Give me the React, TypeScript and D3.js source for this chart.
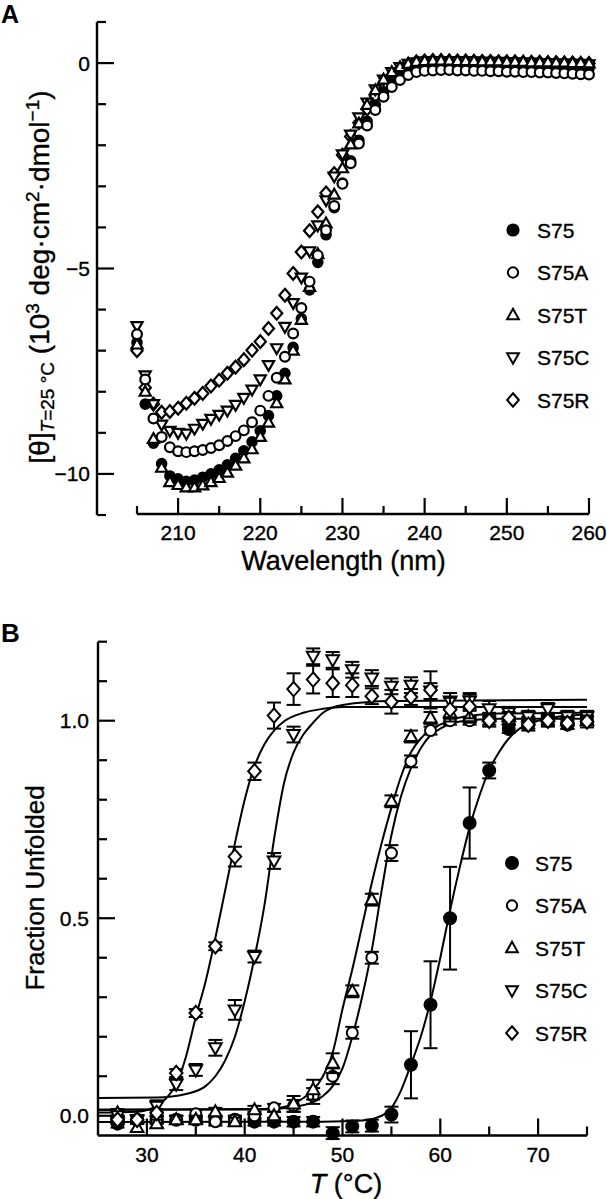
import React from 'react';
import * as d3 from 'd3';

// ---------------- Panel A data (CD spectra) ----------------
const WAVELENGTHS = [205,206,207,208,209,210,211,212,213,214,215,216,217,218,219,220,221,222,223,224,225,226,227,228,229,230,231,232,233,234,235,236,237,238,239,240,241,242,243,244,245,246,247,248,249,250,251,252,253,254,255,256,257,258,259,260];

const CD_S75 = [-6.8,-8.3,-9.25,-9.75,-10.05,-10.12,-10.18,-10.15,-10.08,-10.0,-9.9,-9.78,-9.62,-9.44,-9.22,-8.95,-8.58,-8.1,-7.55,-6.92,-6.22,-5.52,-4.85,-4.18,-3.52,-2.92,-2.38,-1.88,-1.42,-1.02,-0.7,-0.45,-0.28,-0.17,-0.1,-0.07,-0.06,-0.05,-0.05,-0.06,-0.06,-0.07,-0.07,-0.08,-0.08,-0.09,-0.09,-0.1,-0.1,-0.1,-0.11,-0.11,-0.12,-0.12,-0.12,-0.13];
const CD_S75A = [-6.6,-7.7,-8.65,-9.1,-9.35,-9.45,-9.47,-9.45,-9.42,-9.37,-9.3,-9.2,-9.08,-8.94,-8.74,-8.46,-8.1,-7.66,-7.15,-6.58,-5.96,-5.32,-4.68,-4.07,-3.48,-2.94,-2.44,-1.96,-1.52,-1.14,-0.82,-0.58,-0.41,-0.29,-0.22,-0.19,-0.18,-0.17,-0.17,-0.18,-0.18,-0.19,-0.19,-0.2,-0.2,-0.21,-0.21,-0.22,-0.22,-0.23,-0.23,-0.24,-0.25,-0.26,-0.27,-0.28];
const CD_S75T = [-6.85,-8.0,-9.15,-9.85,-10.2,-10.27,-10.33,-10.33,-10.28,-10.2,-10.1,-9.97,-9.8,-9.62,-9.4,-9.1,-8.75,-8.28,-7.7,-7.0,-6.25,-5.45,-4.65,-3.9,-3.2,-2.56,-1.98,-1.47,-1.02,-0.66,-0.4,-0.22,-0.1,-0.02,0.03,0.05,0.06,0.06,0.06,0.05,0.05,0.05,0.04,0.04,0.04,0.03,0.03,0.03,0.02,0.02,0.02,0.01,0.01,0.0,0.0,-0.01];
const CD_S75C = [-6.4,-7.6,-8.3,-8.8,-8.95,-9.0,-9.02,-8.9,-8.78,-8.66,-8.56,-8.46,-8.32,-8.15,-7.95,-7.7,-7.35,-6.94,-6.42,-5.84,-5.22,-4.58,-3.95,-3.34,-2.76,-2.22,-1.74,-1.32,-0.96,-0.64,-0.4,-0.22,-0.1,-0.02,0.02,0.04,0.05,0.05,0.05,0.04,0.04,0.04,0.03,0.03,0.03,0.02,0.02,0.01,0.01,0.0,0.0,-0.01,-0.01,-0.02,-0.02,-0.03];
const CD_S75R = [-7.0,-7.9,-8.3,-8.5,-8.48,-8.4,-8.28,-8.16,-8.04,-7.86,-7.72,-7.55,-7.4,-7.22,-6.99,-6.78,-6.46,-6.09,-5.65,-5.12,-4.6,-4.08,-3.62,-3.16,-2.69,-2.24,-1.79,-1.45,-1.12,-0.8,-0.54,-0.33,-0.15,-0.03,0.03,0.05,0.06,0.06,0.05,0.05,0.05,0.04,0.04,0.04,0.03,0.03,0.03,0.02,0.02,0.02,0.01,0.01,0.0,0.0,-0.01,-0.01];

const A_Y_TICKS = [1,0,-1,-2,-3,-4,-5,-6,-7,-8,-9,-10,-11];
const A_Y_LABELS = [0,-5,-10];
const A_X_TICKS = [205,210,215,220,225,230,235,240,245,250,255,260];
const A_X_LABELS = [210,220,230,240,250,260];

// ---------------- Panel B data (thermal unfolding) ----------------
const TEMPS = [27,29,31,33,35,37,39,41,43,45,47,49,51,53,55,57,59,61,63,65,67,69,71,73,75];

const FU_S75 = [-0.02,-0.01,-0.01,-0.01,-0.01,-0.01,-0.01,-0.015,-0.015,-0.015,-0.015,-0.044,-0.027,-0.025,0.003,0.129,0.281,0.5,0.741,0.874,0.979,0.99,1.0,0.99,1.0];
const ERR_S75 = [0.01,0.01,0.01,0.01,0.01,0.01,0.01,0.01,0.01,0.012,0.012,0.015,0.015,0.015,0.02,0.085,0.11,0.13,0.09,0.02,0.01,0.01,0.01,0.01,0.01];

const FU_S75A = [-0.01,-0.01,-0.01,-0.01,0.005,-0.015,-0.01,0.0,0.02,0.025,0.05,0.1,0.21,0.4,0.665,0.897,0.975,1.0,1.0,1.0,1.0,1.0,1.0,1.0,1.0];
const ERR_S75A = [0.01,0.01,0.01,0.01,0.01,0.01,0.01,0.01,0.01,0.015,0.02,0.02,0.015,0.015,0.02,0.015,0.01,0.01,0.01,0.01,0.01,0.01,0.01,0.01,0.01];

const FU_S75T = [0.007,-0.03,-0.02,-0.01,-0.01,0.01,-0.015,0.015,0.0,0.03,0.066,0.133,0.315,0.547,0.796,0.96,1.007,1.02,1.01,1.01,1.01,1.01,1.01,1.0,1.0];
const ERR_S75T = [0.01,0.01,0.01,0.01,0.01,0.01,0.01,0.01,0.01,0.02,0.025,0.025,0.015,0.015,0.015,0.015,0.015,0.015,0.015,0.01,0.01,0.01,0.01,0.01,0.01];

const FU_S75C = [0.0,-0.01,0.024,0.08,0.116,0.172,0.268,0.403,0.645,0.965,1.163,1.154,1.129,1.108,1.087,1.09,1.075,1.05,1.05,1.03,1.02,1.01,1.03,1.01,1.01];
const ERR_S75C = [0.01,0.01,0.015,0.015,0.015,0.02,0.025,0.015,0.02,0.02,0.02,0.02,0.02,0.02,0.02,0.02,0.02,0.02,0.02,0.02,0.015,0.015,0.015,0.015,0.015];

const FU_S75R = [-0.01,-0.01,0.007,0.108,0.26,0.429,0.656,0.872,1.013,1.08,1.104,1.095,1.09,1.062,1.048,1.06,1.078,1.028,1.036,1.0,1.007,0.99,1.0,0.994,0.998];
const ERR_S75R = [0.01,0.01,0.01,0.01,0.01,0.01,0.025,0.022,0.033,0.04,0.035,0.035,0.03,0.02,0.03,0.02,0.047,0.03,0.03,0.015,0.015,0.015,0.015,0.015,0.015];

// fitted curves as [T, fraction] pairs
const FIT_S75: [number, number][] = [[25,-0.016],[48,-0.015],[52,-0.012],[54,0.0],[55,0.02],[56,0.065],[57,0.13],[58,0.2],[59,0.29],[60,0.4],[61,0.52],[62,0.63],[63,0.73],[64,0.81],[65,0.875],[66,0.92],[67,0.955],[68,0.978],[70,1.0],[72,1.01],[75,1.015]];
const FIT_S75A: [number, number][] = [[25,0.015],[42,0.016],[45,0.022],[47,0.035],[48,0.05],[49,0.075],[50,0.12],[51,0.2],[52,0.3],[53,0.42],[54,0.57],[55,0.71],[56,0.81],[57,0.88],[58,0.93],[59,0.963],[60,0.98],[62,0.998],[66,1.005],[75,1.005]];
const FIT_S75T: [number, number][] = [[25,0.015],[42,0.017],[44,0.022],[45,0.03],[46,0.045],[47,0.065],[48,0.1],[49,0.16],[50,0.27],[51,0.37],[52,0.48],[53,0.59],[54,0.69],[55,0.78],[56,0.86],[57,0.92],[58,0.955],[59,0.977],[60,0.99],[62,1.008],[66,1.018],[75,1.02]];
const FIT_S75C: [number, number][] = [[25,0.045],[31,0.046],[34,0.055],[36,0.075],[37,0.1],[38,0.14],[39,0.2],[40,0.29],[41,0.4],[42,0.53],[43,0.7],[44,0.84],[45,0.92],[46,0.965],[47,0.995],[48,1.02],[50,1.04],[55,1.05],[75,1.053]];
const FIT_S75R: [number, number][] = [[25,0.008],[29,0.01],[31,0.025],[32,0.045],[33,0.08],[34,0.15],[35,0.25],[36,0.34],[37,0.45],[38,0.57],[39,0.69],[40,0.8],[41,0.885],[42,0.94],[43,0.975],[44,0.998],[46,1.02],[48,1.03],[50,1.035],[75,1.035]];

const B_Y_TICKS = [1.2,1.1,1.0,0.9,0.8,0.7,0.6,0.5,0.4,0.3,0.2,0.1,0.0];
const B_Y_LABELS = ['1.0','0.5','0.0'];
const B_X_TICKS = [30,35,40,45,50,55,60,65,70,75];
const B_X_LABELS = [30,40,50,60,70];

const NAMES = ['S75','S75A','S75T','S75C','S75R'];
const SHAPES = ['filled','circle','up','down','diamond'];

const FONT = "'Liberation Sans', Arial, Helvetica, sans-serif";

function markerPath(shape: string, s: number): string {
  if (shape === 'up') return `M0,${-1.1 * s}L${1.05 * s},${0.75 * s}L${-1.05 * s},${0.75 * s}Z`;
  if (shape === 'down') return `M0,${1.1 * s}L${1.05 * s},${-0.75 * s}L${-1.05 * s},${-0.75 * s}Z`;
  if (shape === 'diamond') return `M0,${-1.2 * s}L${1.05 * s},0L0,${1.2 * s}L${-1.05 * s},0Z`;
  return '';
}

function Marker({ shape, x, y, s, sw = 2 }: { shape: string; x: number; y: number; s: number; sw?: number }) {
  if (shape === 'filled') return <circle cx={x} cy={y} r={s} fill="#000" stroke="#000" strokeWidth={1.6} />;
  if (shape === 'circle') return <circle cx={x} cy={y} r={s * 0.92} fill="#fff" stroke="#000" strokeWidth={sw} />;
  return <path transform={`translate(${x},${y})`} d={markerPath(shape, s)} fill="#fff" stroke="#000" strokeWidth={sw} strokeLinejoin="miter" />;
}

export default function App() {
  const xA = d3.scaleLinear().domain([205, 260]).range([137, 589]);
  const yA = d3.scaleLinear().domain([-11, 1]).range([515, 22]);
  const xB = d3.scaleLinear().domain([25, 75]).range([98, 587]);
  const yB = d3.scaleLinear().domain([-0.05, 1.2]).range([1135.5, 641.7]);

  const cdSeries = [CD_S75, CD_S75A, CD_S75T, CD_S75C, CD_S75R];
  const fuSeries = [FU_S75, FU_S75A, FU_S75T, FU_S75C, FU_S75R];
  const errSeries = [ERR_S75, ERR_S75A, ERR_S75T, ERR_S75C, ERR_S75R];
  const fits = [FIT_S75, FIT_S75A, FIT_S75T, FIT_S75C, FIT_S75R];
  const orderA = [4, 3, 0, 2, 1];
  const orderB = [0, 1, 2, 3, 4];

  const line = d3.line<[number, number]>()
    .x((d) => xB(d[0]))
    .y((d) => yB(d[1]))
    .curve(d3.curveMonotoneX);

  const axisColor = '#000';
  const tickFont = 21;
  const titleFont = 27;
  const txt = { stroke: '#000', strokeWidth: 0.35 };

  return (
    <svg width={607} height={1199} style={{ position: 'absolute', left: 0, top: 0, background: '#fff' }} fontFamily={FONT}>
      <rect x={0} y={0} width={607} height={1199} fill="#fff" />
      {/* ---------- Panel A ---------- */}
      <text x={1} y={23} fontSize={25} fontWeight="bold">A</text>
      <line x1={97} x2={97} y1={yA(1)} y2={yA(-11)} stroke={axisColor} strokeWidth={2.4} />
      {A_Y_TICKS.map((t) => {
        const major = A_Y_LABELS.includes(t);
        return <line key={`ayt${t}`} x1={97} x2={97 + (major ? 17 : 9)} y1={yA(t)} y2={yA(t)} stroke={axisColor} strokeWidth={2.2} />;
      })}
      {A_Y_LABELS.map((t) => (
        <text key={`ayl${t}`} x={90} y={yA(t) + 7.5} fontSize={tickFont} textAnchor="end" {...txt}>{t === 0 ? '0' : `\u2212${Math.abs(t)}`}</text>
      ))}
      <line x1={xA(205)} x2={xA(260)} y1={514} y2={514} stroke={axisColor} strokeWidth={2.4} />
      {A_X_TICKS.map((t) => {
        const major = A_X_LABELS.includes(t);
        return <line key={`axt${t}`} x1={xA(t)} x2={xA(t)} y1={514} y2={514 - (major ? 16 : 8)} stroke={axisColor} strokeWidth={2.2} />;
      })}
      {A_X_LABELS.map((t) => (
        <text key={`axl${t}`} x={xA(t)} y={540} fontSize={tickFont} textAnchor="middle" {...txt}>{t}</text>
      ))}
      <text x={343.5} y={570} fontSize={titleFont} textAnchor="middle" {...txt}>Wavelength (nm)</text>
      <text transform={`translate(49,277) rotate(-90)`} fontSize={28} textAnchor="middle" {...txt}>
        <tspan>[θ]</tspan>
        <tspan fontSize={19} fontStyle="italic" dy={5}>T</tspan>
        <tspan fontSize={19}>=25 °C</tspan>
        <tspan dy={-5}> (10</tspan>
        <tspan fontSize={19} dy={-10}>3</tspan>
        <tspan dy={10}> deg·cm</tspan>
        <tspan fontSize={19} dy={-10}>2</tspan>
        <tspan dy={10}>·dmol</tspan>
        <tspan fontSize={19} dy={-10}>−1</tspan>
        <tspan dy={10}>)</tspan>
      </text>

      {orderA.map((si) => (
        <g key={`cd${si}`}>
          {WAVELENGTHS.map((w, i) => (
            <Marker key={i} shape={SHAPES[si]} x={xA(w)} y={yA(cdSeries[si][i])} s={si === 0 ? 5 : 5.3} sw={2.2} />
          ))}
        </g>
      ))}

      {NAMES.map((n, i) => {
        const ly = 230 + i * 42.5;
        return (
          <g key={`la${n}`}>
            <Marker shape={SHAPES[i]} x={513} y={ly} s={i === 0 ? 5.8 : 5.6} />
            <text x={537} y={ly + 7.5} fontSize={tickFont} {...txt}>{n}</text>
          </g>
        );
      })}

      {/* ---------- Panel B ---------- */}
      <text x={1} y={642} fontSize={26} fontWeight="bold">B</text>
      <line x1={98} x2={98} y1={yB(1.2)} y2={yB(-0.05)} stroke={axisColor} strokeWidth={2.4} />
      {B_Y_TICKS.map((t) => {
        const major = Math.abs(t - 1) < 1e-6 || Math.abs(t - 0.5) < 1e-6 || Math.abs(t) < 1e-6;
        return <line key={`byt${t}`} x1={98} x2={98 + (major ? 17 : 9)} y1={yB(t)} y2={yB(t)} stroke={axisColor} strokeWidth={2.2} />;
      })}
      {B_Y_LABELS.map((t) => (
        <text key={`byl${t}`} x={89} y={yB(parseFloat(t)) + 7.5} fontSize={tickFont} textAnchor="end" {...txt}>{t}</text>
      ))}
      <line x1={xB(25)} x2={xB(75)} y1={yB(-0.05)} y2={yB(-0.05)} stroke={axisColor} strokeWidth={2.4} />
      {B_X_TICKS.map((t) => {
        const major = B_X_LABELS.includes(t);
        return <line key={`bxt${t}`} x1={xB(t)} x2={xB(t)} y1={yB(-0.05)} y2={yB(-0.05) - (major ? 17 : 9)} stroke={axisColor} strokeWidth={2.2} />;
      })}
      {B_X_LABELS.map((t) => (
        <text key={`bxl${t}`} x={xB(t)} y={1162} fontSize={tickFont} textAnchor="middle" {...txt}>{t}</text>
      ))}
      <text x={346} y={1193} fontSize={titleFont} textAnchor="middle" {...txt}>
        <tspan fontStyle="italic">T</tspan><tspan> (°C)</tspan>
      </text>
      <text transform={`translate(44,888) rotate(-90)`} fontSize={26} textAnchor="middle" {...txt}>Fraction Unfolded</text>

      {fits.map((f, i) => (
        <path key={`fit${i}`} d={line(f) || ''} fill="none" stroke="#000" strokeWidth={2} />
      ))}

      {orderB.map((si) => (
        <g key={`fu${si}`}>
          {TEMPS.map((t, i) => {
            const v = fuSeries[si][i];
            const e = errSeries[si][i];
            const cx = xB(t);
            const y1 = yB(v + e);
            const y2 = yB(v - e);
            return (
              <g key={`e${i}`} stroke="#000" strokeWidth={2}>
                <line x1={cx} x2={cx} y1={y1} y2={y2} />
                <line x1={cx - 7} x2={cx + 7} y1={y1} y2={y1} />
                <line x1={cx - 7} x2={cx + 7} y1={y2} y2={y2} />
              </g>
            );
          })}
          {TEMPS.map((t, i) => (
            <Marker key={`m${i}`} shape={SHAPES[si]} x={xB(t)} y={yB(fuSeries[si][i])} s={si === 0 ? 6.2 : 6} />
          ))}
        </g>
      ))}

      {NAMES.map((n, i) => {
        const ly = 863 + i * 42.5;
        return (
          <g key={`lb${n}`}>
            <Marker shape={SHAPES[i]} x={512} y={ly} s={i === 0 ? 6.2 : 5.6} />
            <text x={535} y={ly + 7.5} fontSize={tickFont} {...txt}>{n}</text>
          </g>
        );
      })}
    </svg>
  );
}
